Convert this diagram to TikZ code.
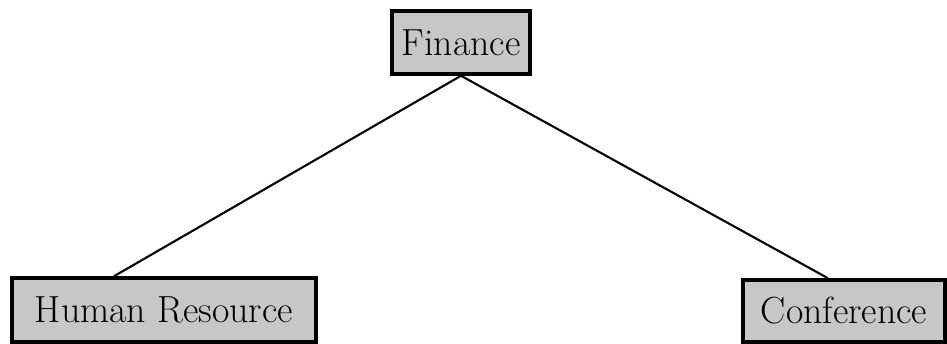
\documentclass[tikz,border=0pt]{standalone}
\usepackage{tikz}
\usetikzlibrary{positioning}

\begin{document}
\begin{tikzpicture}
	[dept/.style={draw,line width=2pt,fill=black!22,inner sep=0pt,
		font=\fontsize{21.5}{26}\selectfont},
	branch/.style={draw,line width=1.2pt}]
	\useasboundingbox (0,0) rectangle (18.94,-6.88);
	\node[dept,minimum width=2.76cm,minimum height=1.26cm] (fin) at (9.22,-0.85) {Finance};
	\node[dept,minimum width=6.08cm,minimum height=1.28cm] (hr) at (3.28,-6.2) {Human Resource};
	\node[dept,minimum width=4.04cm,minimum height=1.24cm] (conf) at (16.88,-6.22) {Conference};
	\coordinate (hrtop) at ([xshift=-1cm]hr.north);
	\coordinate (conftop) at ([xshift=-0.32cm]conf.north);
	\draw[branch] (fin.south) -- (hrtop);
	\draw[branch] (fin.south) -- (conftop);
\end{tikzpicture}
\end{document}
